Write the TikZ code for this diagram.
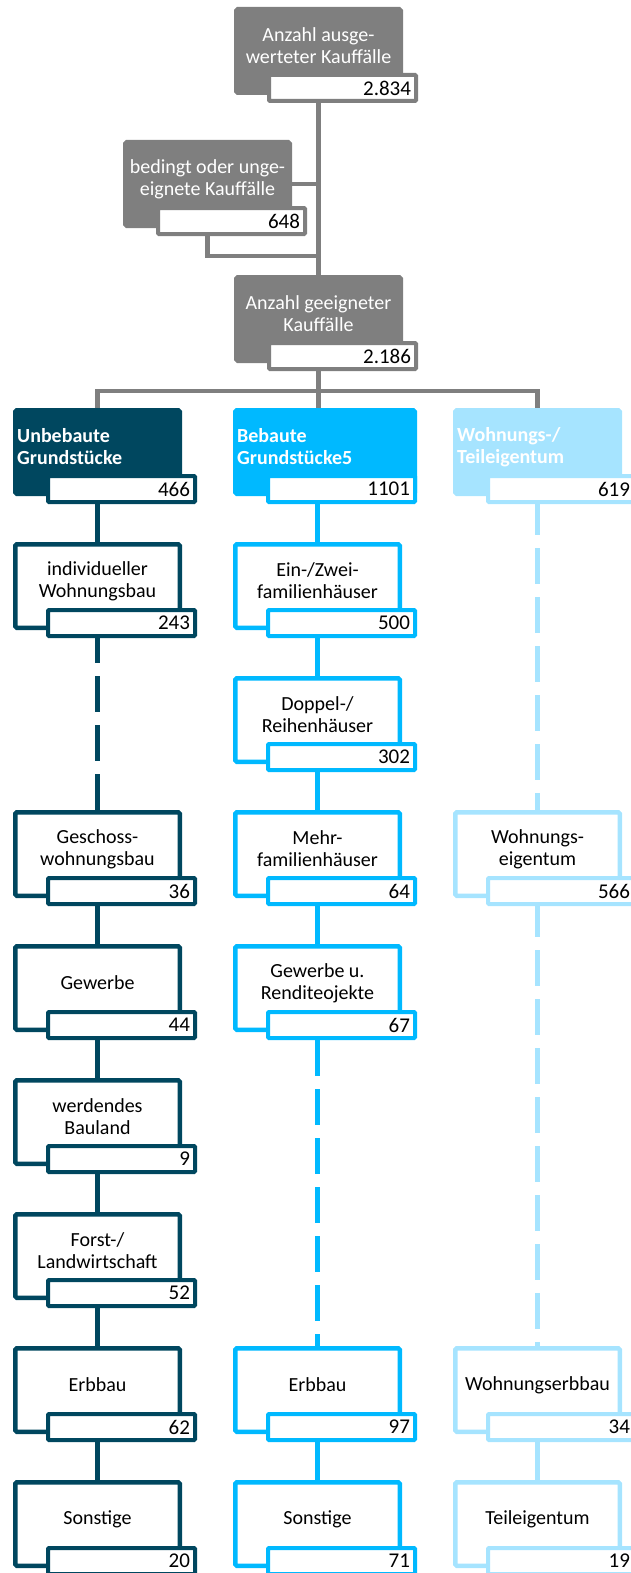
\documentclass[tikz,border=0pt]{standalone}
\usepackage{fontspec}
\setmainfont{Carlito}
\usetikzlibrary{calc}
\definecolor{kgray}{RGB}{127,127,127}
\definecolor{unbebaut}{RGB}{0,71,95}
\definecolor{bebaut}{RGB}{0,185,255}
\definecolor{wohnung}{RGB}{166,228,255}
\pgfkeys{
  /kbox/.cd,
  name/.initial=k,
  x/.initial=0,
  y/.initial=0,
  width/.initial=164.5pt,
  label/.initial={},
  value/.initial={},
  color/.initial=kgray,
  fill/.initial=white,
  text/.initial=childtext,
}
\makeatletter
\newcommand{\kbox}[1][]{
  {
    \pgfkeys{
      /kbox/.cd,
      #1,
      /kbox/name/.get=\kbox@name,
      /kbox/x/.get=\kbox@x,
      /kbox/y/.get=\kbox@y,
      /kbox/width/.get=\kbox@width,
      /kbox/label/.get=\kbox@label,
      /kbox/value/.get=\kbox@value,
      /kbox/color/.get=\kbox@color,
      /kbox/fill/.get=\kbox@fill,
      /kbox/text/.get=\kbox@text
    }
    \node[frame box,draw=\kbox@color,fill=\kbox@fill,minimum width=\kbox@width] (\kbox@name) at (\kbox@x,\kbox@y) {};
    \node[kstyle/.expand once=\kbox@text] (\kbox@name t) at ([yshift=-39pt]\kbox@name.north west) {\kbox@label};
    \node[value box=\kbox@color] (\kbox@name v) at ([xshift=33pt,yshift=-66pt]\kbox@name.north west) {\kbox@value};
  }
}
\makeatother
\tikzset{
  kstyle/.style={#1},
  frame box/.style={anchor=north west,line width=4.5pt,outer sep=2.25pt,inner sep=0pt,minimum height=83.5pt,rounded corners=1.5pt},
  value box/.style={draw=#1,fill=white,anchor=north west,line width=4pt,outer sep=2pt,rounded corners=1pt,
    minimum height=26pt,inner xsep=5pt,inner ysep=0pt,text width=137pt,align=right,font=\fontsize{21}{24}\selectfont},
  childtext/.style={xshift=84.5pt,align=center,inner sep=0pt,font=\fontsize{20}{22}\selectfont},
  graytext/.style={childtext,text=white},
  headtext/.style={anchor=west,xshift=4pt,align=left,inner sep=0pt,text=white,font=\fontsize{20}{22}\selectfont\bfseries},
  link/.style={draw=#1,line width=4.5pt},
  linkdash/.style={link=#1,dash pattern=on 36pt off 13pt}
}
\begin{document}
\begin{tikzpicture}[x=1pt,y=-1pt]
  \path[use as bounding box] (0,0) rectangle (631,1573);
  \clip (0,0) rectangle (631,1573);

  \kbox[/kbox/name=A,/kbox/x=234,/kbox/y=7,/kbox/label={Anzahl ausge-\\werteter Kauffälle},/kbox/value=2.834,/kbox/fill=kgray,/kbox/text=graytext]
  \kbox[/kbox/name=B,/kbox/x=123,/kbox/y=140,/kbox/label={bedingt oder unge-\\eignete Kauffälle},/kbox/value=648,/kbox/fill=kgray,/kbox/text=graytext]
  \kbox[/kbox/name=C,/kbox/x=234,/kbox/y=275,/kbox/label={Anzahl geeigneter\\Kauffälle},/kbox/value=2.186,/kbox/fill=kgray,/kbox/text=graytext]

  \kbox[/kbox/name=u0,/kbox/x=13,/kbox/y=408,/kbox/label={Unbebaute\\Grundstücke},/kbox/value=466,/kbox/color=unbebaut,/kbox/fill=unbebaut,/kbox/text=headtext]
  \kbox[/kbox/name=b0,/kbox/x=233,/kbox/y=408,/kbox/width=179.5pt,/kbox/label={Bebaute\\Grundstücke5},/kbox/value=1101,/kbox/color=bebaut,/kbox/fill=bebaut,/kbox/text=headtext]
  \kbox[/kbox/name=w0,/kbox/x=453,/kbox/y=408,/kbox/label={Wohnungs-/\\Teileigentum},/kbox/value=619,/kbox/color=wohnung,/kbox/fill=wohnung,/kbox/text=headtext]

  \kbox[/kbox/name=u1,/kbox/x=13,/kbox/y=542,/kbox/label={individueller\\Wohnungsbau},/kbox/value=243,/kbox/color=unbebaut]
  \kbox[/kbox/name=u3,/kbox/x=13,/kbox/y=810,/kbox/label={Geschoss-\\wohnungsbau},/kbox/value=36,/kbox/color=unbebaut]
  \kbox[/kbox/name=u4,/kbox/x=13,/kbox/y=944,/kbox/label={Gewerbe},/kbox/value=44,/kbox/color=unbebaut]
  \kbox[/kbox/name=u5,/kbox/x=13,/kbox/y=1078,/kbox/label={werdendes\\Bauland},/kbox/value=9,/kbox/color=unbebaut]
  \kbox[/kbox/name=u6,/kbox/x=13,/kbox/y=1212,/kbox/label={Forst-/\\Landwirtschaft},/kbox/value=52,/kbox/color=unbebaut]
  \kbox[/kbox/name=u7,/kbox/x=13,/kbox/y=1346,/kbox/label={Erbbau},/kbox/value=62,/kbox/color=unbebaut]
  \kbox[/kbox/name=u8,/kbox/x=13,/kbox/y=1480,/kbox/label={Sonstige},/kbox/value=20,/kbox/color=unbebaut]

  \kbox[/kbox/name=b1,/kbox/x=233,/kbox/y=542,/kbox/label={Ein-/Zwei-\\familienhäuser},/kbox/value=500,/kbox/color=bebaut]
  \kbox[/kbox/name=b2,/kbox/x=233,/kbox/y=676,/kbox/label={Doppel-/\\Reihenhäuser},/kbox/value=302,/kbox/color=bebaut]
  \kbox[/kbox/name=b3,/kbox/x=233,/kbox/y=810,/kbox/label={Mehr-\\familienhäuser},/kbox/value=64,/kbox/color=bebaut]
  \kbox[/kbox/name=b4,/kbox/x=233,/kbox/y=944,/kbox/label={Gewerbe u.\\Renditeojekte},/kbox/value=67,/kbox/color=bebaut]
  \kbox[/kbox/name=b7,/kbox/x=233,/kbox/y=1346,/kbox/label={Erbbau},/kbox/value=97,/kbox/color=bebaut]
  \kbox[/kbox/name=b8,/kbox/x=233,/kbox/y=1480,/kbox/label={Sonstige},/kbox/value=71,/kbox/color=bebaut]

  \kbox[/kbox/name=w3,/kbox/x=453,/kbox/y=810,/kbox/label={Wohnungs-\\eigentum},/kbox/value=566,/kbox/color=wohnung]
  \kbox[/kbox/name=w7,/kbox/x=453,/kbox/y=1346,/kbox/label={Wohnungserbbau},/kbox/value=34,/kbox/color=wohnung]
  \kbox[/kbox/name=w8,/kbox/x=453,/kbox/y=1480,/kbox/label={Teileigentum},/kbox/value=19,/kbox/color=wohnung]

  \coordinate (hub) at ($(C.south |- Cv.south)+(0,20)$);
  \draw[link=kgray] (C.north |- Av.south) -- (C.north);
  \draw[link=kgray] (B.east) -- (B.east -| C.north);
  \draw[link=kgray] (B.south |- Bv.south) |- ([yshift=19pt]C.north);
  \draw[link=kgray] (C.south |- Cv.south) -- (hub);
  \draw[link=kgray] (u0.north) |- (hub) -| (w0.north);
  \draw[link=kgray] (hub) -- (hub |- b0.north);

  \draw[link=unbebaut] (u1.north |- u0v.south) -- (u1.north);
  \draw[linkdash=unbebaut,dash phase=11pt] (u3.north |- u1v.south) -- (u3.north);
  \draw[link=unbebaut] (u4.north |- u3v.south) -- (u4.north);
  \draw[link=unbebaut] (u5.north |- u4v.south) -- (u5.north);
  \draw[link=unbebaut] (u6.north |- u5v.south) -- (u6.north);
  \draw[link=unbebaut] (u7.north |- u6v.south) -- (u7.north);
  \draw[link=unbebaut] (u8.north |- u7v.south) -- (u8.north);

  \draw[link=bebaut] (b1.north |- b0v.south) -- (b1.north);
  \draw[link=bebaut] (b2.north |- b1v.south) -- (b2.north);
  \draw[link=bebaut] (b3.north |- b2v.south) -- (b3.north);
  \draw[link=bebaut] (b4.north |- b3v.south) -- (b4.north);
  \draw[linkdash=bebaut] (b7.north |- b4v.south) -- (b7.north);
  \draw[link=bebaut] (b8.north |- b7v.south) -- (b8.north);

  \draw[linkdash=wohnung,dash phase=5pt] (w3.north |- w0v.south) -- (w3.north);
  \draw[linkdash=wohnung,dash phase=5pt] (w7.north |- w3v.south) -- (w7.north);
  \draw[link=wohnung] (w8.north |- w7v.south) -- (w8.north);
\end{tikzpicture}
\end{document}
